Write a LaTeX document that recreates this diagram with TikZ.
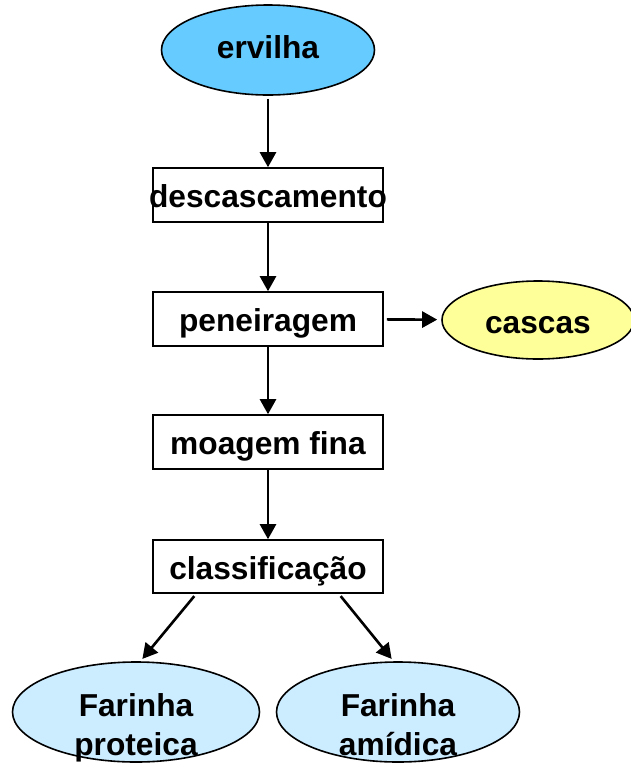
\documentclass[tikz,border=0pt]{standalone}
\usepackage{fontspec}
\setmainfont{Liberation Sans}
\usepackage{tikz}
\usetikzlibrary{arrows.meta,shapes.geometric,positioning}
\definecolor{ervilhaazul}{HTML}{66CCFF}
\definecolor{cascaamarelo}{HTML}{FFFF99}
\definecolor{farinhaazul}{HTML}{CCECFF}
%zwei Zeilen, etwas unter der Mitte
\newcommand{\duaslinhas}[2]{\raisebox{-43pt}[0pt][0pt]{\begin{tabular}[b]{@{}c@{}}#1\\#2\end{tabular}}}
\tikzset{
  every node/.style={font=\fontsize{31.7pt}{39pt}\selectfont\bfseries},
  etapa/.style={draw,line width=1.6pt,fill=white,minimum width=230pt,minimum height=54pt,inner sep=0pt,text height=25pt,text depth=0pt},
  produto/.style={ellipse,draw,line width=1.6pt,inner sep=0pt},
  farinha/.style={produto,fill=farinhaazul,minimum height=100pt},
  seta/.style={line width=2.6pt,-{Triangle[length=15pt,width=16pt]}},
}
\begin{document}
\begin{tikzpicture}[x=1pt,y=-1pt]
%Bildgroesse wie Vorlage: 631 x 764
\useasboundingbox (0,0) rectangle (631,764);
%Rohstoff oben
\node[produto,fill=ervilhaazul,minimum width=213pt,minimum height=90pt,text height=16pt,text depth=0pt] (erv) at (268,50) {ervilha};
%Prozessschritte
\node[etapa] (desc) at (268,195) {\makebox[0pt]{descascamento}};
\node[etapa] (pen) at (268,319) {peneiragem};
\node[etapa] (moag) at (268,442) {moagem fina};
\node[etapa,minimum height=53pt] (klass) at (268,566.5) {classificação};
%Produkte
\node[produto,fill=cascaamarelo,minimum width=192pt,minimum height=78pt,text height=26pt,text depth=0pt] (casc) at (538,320) {cascas};
\node[farinha,minimum width=247pt] (prot) at (136,712) {\duaslinhas{Farinha}{proteica}};
\node[farinha,minimum width=243pt] (amid) at (398,712) {\duaslinhas{Farinha}{amídica}};
%Pfeile
\draw[seta,shorten <=3pt] (erv) -- (desc);
\foreach \a/\b in {desc/pen,pen/moag,moag/klass}
  \draw[seta] (\a) -- (\b);
\draw[seta,shorten <=3pt,shorten >=4pt] (pen) -- (casc);
\draw[seta,shorten <=3pt,shorten >=3pt] ([xshift=44pt]klass.south west) -- (prot.85);
\draw[seta,shorten <=3pt,shorten >=3pt] ([xshift=-45pt]klass.south east) -- (amid.95);
\end{tikzpicture}
\end{document}
